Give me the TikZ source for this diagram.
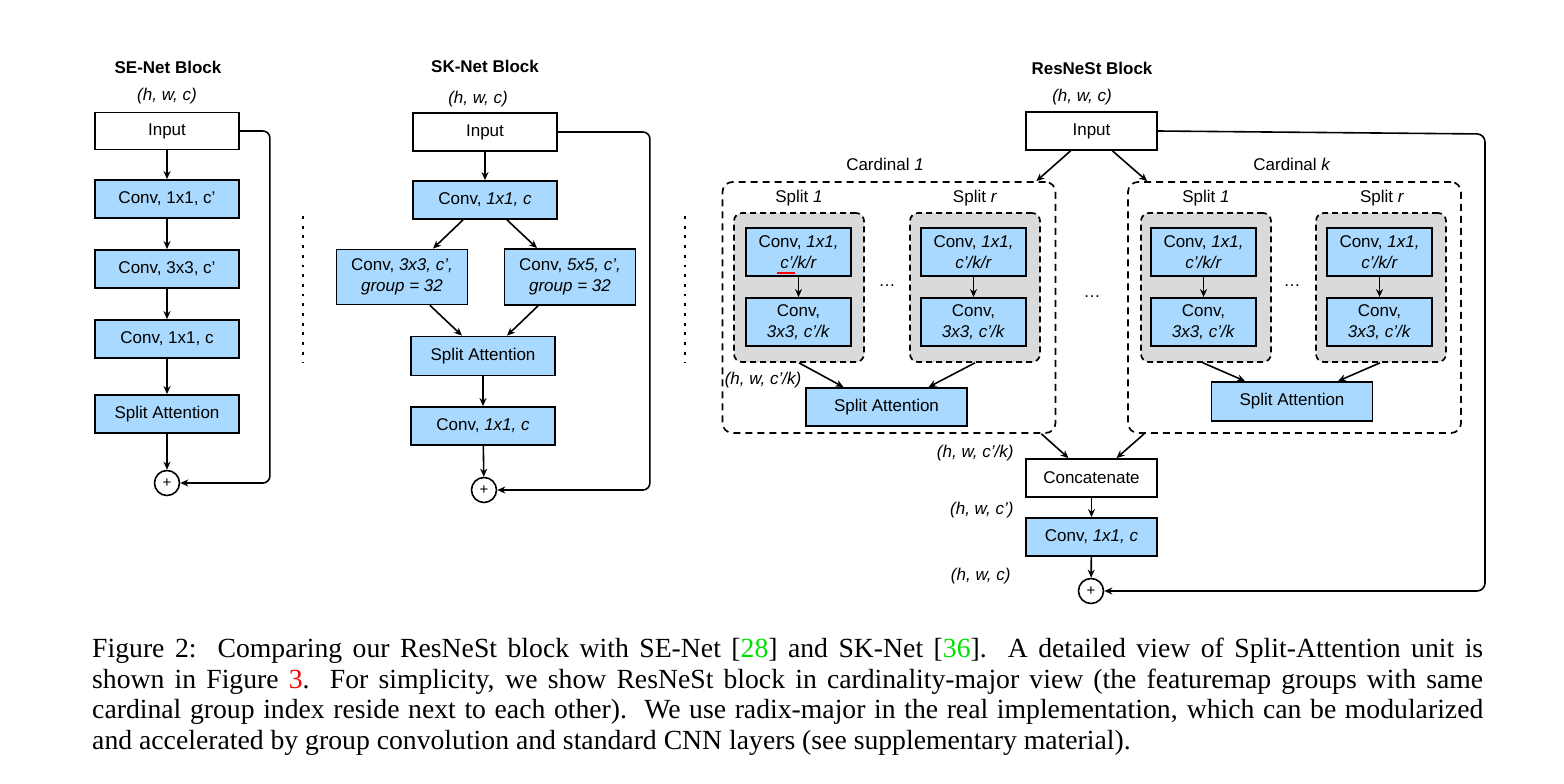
\documentclass[tikz,border=0pt]{standalone}
\usepackage{fontspec}
\setmainfont{Liberation Serif}
\setsansfont{Liberation Sans}
\usetikzlibrary{arrows.meta}

\definecolor{convblue}{HTML}{A9D9FE}
\definecolor{splitgray}{HTML}{DADADA}
\definecolor{refgreen}{HTML}{00E000}
\definecolor{refred}{HTML}{FF0000}
\newcommand\boxfont{\sffamily\fontsize{17}{20.5}\selectfont}

\tikzset{
  blk/.style={draw, line width=1.8pt, inner sep=0pt, align=center, font=\boxfont},
  plainblk/.style={blk, fill=white},
  convblk/.style={blk, fill=convblue},
  splitgrp/.style={draw, line width=1.7pt, dash pattern=on 6pt off 4pt, fill=splitgray, rounded corners=8pt, inner sep=0pt},
  cardgrp/.style={draw, line width=1.7pt, dash pattern=on 7pt off 5pt, rounded corners=10pt, inner sep=0pt},
  dimlbl/.style={font=\boxfont\itshape},
  grplbl/.style={font=\boxfont},
  blktitle/.style={font=\boxfont\bfseries},
  sumnode/.style={circle, draw, line width=1.6pt, minimum size=25pt, inner sep=0pt, font=\sffamily\fontsize{15}{15}\selectfont},
  arr/.style={-{Stealth[length=8pt,width=7pt]}, line width=1.6pt},
  sep/.style={line width=2.8pt, dash pattern=on 2.8pt off 6.9pt},
}

\begin{document}
\begin{tikzpicture}[x=1pt, y=-1pt]
\useasboundingbox (0,0) rectangle (1564,784);

% SE-Net block
\node[blktitle] (seTitle) at (168,67) {SE-Net Block};
\node[dimlbl] (seDim) at (167,96) {(h, w, c)};
\node[plainblk, minimum width=144pt, minimum height=37pt] (seIn) at (167,131) {Input};
\node[convblk, minimum width=144pt, minimum height=38pt] (seC1) at (167,199) {Conv, 1x1, c'};
\node[convblk, minimum width=144pt, minimum height=38pt] (seC2) at (167,269) {Conv, 3x3, c'};
\node[convblk, minimum width=144pt, minimum height=38pt] (seC3) at (167,339) {Conv, 1x1, c};
\node[convblk, minimum width=144pt, minimum height=38pt] (seSA) at (167,414) {Split Attention};
\node[sumnode] (sePlus) at (167,483) {+};
\draw[arr] (seIn) -- (seC1);
\draw[arr] (seC1) -- (seC2);
\draw[arr] (seC2) -- (seC3);
\draw[arr] (seC3) -- (seSA);
\draw[arr] (seSA) -- (sePlus);
\draw[arr, rounded corners=7pt] (seIn.east) -- ++(30,0) |- (sePlus);

\draw[sep] (303,216) -- (303,362);

% SK-Net block
\node[blktitle] (skTitle) at (485,66) {SK-Net Block};
\node[dimlbl] (skDim) at (478,99) {(h, w, c)};
\node[plainblk, minimum width=144pt, minimum height=38pt] (skIn) at (485,132) {Input};
\node[convblk, minimum width=144pt, minimum height=38pt] (skC1) at (485,200) {Conv, \textit{1x1, c}};
\node[convblk, minimum width=131pt, minimum height=55pt] (skC3) at (402,277) {Conv, \textit{3x3, c',}\\\textit{group = 32}};
\node[convblk, minimum width=131pt, minimum height=56pt] (skC5) at (570,277) {Conv, \textit{5x5, c',}\\\textit{group = 32}};
\node[convblk, minimum width=144pt, minimum height=39pt] (skSA) at (483,356) {Split Attention};
\node[convblk, minimum width=144pt, minimum height=38pt] (skC2) at (483,426) {Conv, \textit{1x1, c}};
\node[sumnode] (skPlus) at (484,490) {+};
\draw[arr] (skIn) -- (skC1);
\draw[arr] ([xshift=-22pt]skC1.south) -- ([xshift=31pt]skC3.north);
\draw[arr] ([xshift=22pt]skC1.south) -- ([xshift=-33pt]skC5.north);
\draw[arr] ([xshift=28pt]skC3.south) -- ([xshift=-21pt]skSA.north);
\draw[arr] ([xshift=-32pt]skC5.south) -- ([xshift=24pt]skSA.north);
\draw[arr] (skSA) -- (skC2);
\draw[arr] (skC2) -- (skPlus);
\draw[arr, rounded corners=7pt] (skIn.east) -- ++(92,0) |- (skPlus);

\draw[sep] (685,216) -- (685,362);

% ResNeSt block
\node[blktitle] (rsTitle) at (1092,68) {ResNeSt Block};
\node[dimlbl] (rsDim) at (1082,97) {(h, w, c)};
\node[plainblk, minimum width=131pt, minimum height=38pt] (rsIn) at (1091.5,131) {Input};

% cardinal 1
\node[cardgrp, minimum width=333pt, minimum height=251pt] (card1) at (889,307.5) {};
\node[grplbl] (card1Lbl) at (885,164) {Cardinal \textit{1}};
\node[grplbl] (c1s1Lbl) at (799,198) {Split \textit{1}};
\node[splitgrp, minimum width=130pt, minimum height=149pt] (c1s1) at (799,287.5) {};
\node[convblk, minimum width=105pt, minimum height=48pt] (c1s1a) at (798.5,252) {Conv, \textit{1x1,}\\\textit{c'/k/r}};
\node[convblk, minimum width=105pt, minimum height=48pt] (c1s1b) at (798.5,322) {Conv,\\\textit{3x3, c'/k}};
\draw[red, line width=2pt] (777,272.5) -- (795,272.5);
\node[grplbl] (c1srLbl) at (975,198) {Split \textit{r}};
\node[splitgrp, minimum width=130pt, minimum height=149pt] (c1sr) at (975,287.5) {};
\node[convblk, minimum width=105pt, minimum height=48pt] (c1sra) at (973.5,252) {Conv, \textit{1x1,}\\\textit{c'/k/r}};
\node[convblk, minimum width=105pt, minimum height=48pt] (c1srb) at (973.5,322) {Conv,\\\textit{3x3, c'/k}};
\node[grplbl] (c1Dots) at (887,286) {…};
\node[convblk, minimum width=161pt, minimum height=38pt] (c1SA) at (886.5,407) {Split Attention};
\node[dimlbl] (c1Dim) at (763,380) {(h, w, c'/k)};
\draw[arr] (c1s1a) -- (c1s1b);
\draw[arr] (c1sra) -- (c1srb);
\draw[arr] (c1s1.south) -- ([xshift=-43pt]c1SA.north);
\draw[arr] (c1sr.south) -- ([xshift=42pt]c1SA.north);

\node[grplbl] (cardDots) at (1092,297) {…};

% cardinal k
\node[cardgrp, minimum width=333pt, minimum height=251pt] (cardk) at (1294.5,307.5) {};
\node[grplbl] (cardkLbl) at (1292,164) {Cardinal \textit{k}};
\node[grplbl] (cks1Lbl) at (1206,198) {Split \textit{1}};
\node[splitgrp, minimum width=130pt, minimum height=149pt] (cks1) at (1206,287.5) {};
\node[convblk, minimum width=105pt, minimum height=48pt] (cks1a) at (1203.5,252) {Conv, \textit{1x1,}\\\textit{c'/k/r}};
\node[convblk, minimum width=105pt, minimum height=48pt] (cks1b) at (1203.5,322) {Conv,\\\textit{3x3, c'/k}};
\node[grplbl] (cksrLbl) at (1382,198) {Split \textit{r}};
\node[splitgrp, minimum width=130pt, minimum height=149pt] (cksr) at (1381,287.5) {};
\node[convblk, minimum width=105pt, minimum height=48pt] (cksra) at (1379.5,252) {Conv, \textit{1x1,}\\\textit{c'/k/r}};
\node[convblk, minimum width=105pt, minimum height=48pt] (cksrb) at (1379.5,322) {Conv,\\\textit{3x3, c'/k}};
\node[grplbl] (ckDots) at (1292,286) {…};
\node[convblk, minimum width=161pt, minimum height=39pt] (ckSA) at (1292,401.5) {Split Attention};
\draw[arr] (cks1a) -- (cks1b);
\draw[arr] (cksra) -- (cksrb);
\draw[arr] ([xshift=-3pt]cks1.south) -- ([xshift=-47pt]ckSA.north);
\draw[arr] ([xshift=-1pt]cksr.south) -- ([xshift=46pt]ckSA.north);

\draw[arr] ([xshift=-21pt]rsIn.south) -- ([xshift=-20pt]card1.north east);
\draw[arr] ([xshift=21pt]rsIn.south) -- ([xshift=20pt]cardk.north west);

% merge
\node[plainblk, minimum width=131pt, minimum height=38pt] (rsCat) at (1091.5,478) {Concatenate};
\node[convblk, minimum width=131pt, minimum height=38pt] (rsConv) at (1091.5,537) {Conv, \textit{1x1, c}};
\node[sumnode] (rsPlus) at (1091,591) {+};
\node[dimlbl, anchor=east] (catDim) at (1017,453) {(h, w, c'/k)};
\node[dimlbl, anchor=east] (convDim) at (1017,510) {(h, w, c')};
\node[dimlbl, anchor=east] (outDim) at (1014,576) {(h, w, c)};
\draw[arr] ([xshift=-15pt]card1.south east) -- ([xshift=-23pt]rsCat.north);
\draw[arr] ([xshift=17pt]cardk.south west) -- ([xshift=25pt]rsCat.north);
\draw[arr] (rsCat) -- (rsConv);
\draw[arr] (rsConv) -- (rsPlus);
\draw[arr, rounded corners=8pt] (rsIn.east) -- (1485,134) |- (rsPlus);

% caption
\node[anchor=north west, text width=1391pt, align=justify, inner sep=0pt,
      font=\rmfamily\fontsize{27.7}{30.5}\selectfont] (caption) at (92,638)
  {Figure 2:\ \ Comparing our ResNeSt block with SE-Net [\textcolor{refgreen}{28}] and SK-Net [\textcolor{refgreen}{36}].\ \ A detailed view of Split-Attention unit is\linebreak
   shown in Figure \textcolor{refred}{3}.\ \ For simplicity, we show ResNeSt block in cardinality-major view (the featuremap groups with same\linebreak
   cardinal group index reside next to each other).\ \ We use radix-major in the real implementation, which can be modularized\linebreak
   and accelerated by group convolution and standard CNN layers (see supplementary material).};
\end{tikzpicture}
\end{document}
